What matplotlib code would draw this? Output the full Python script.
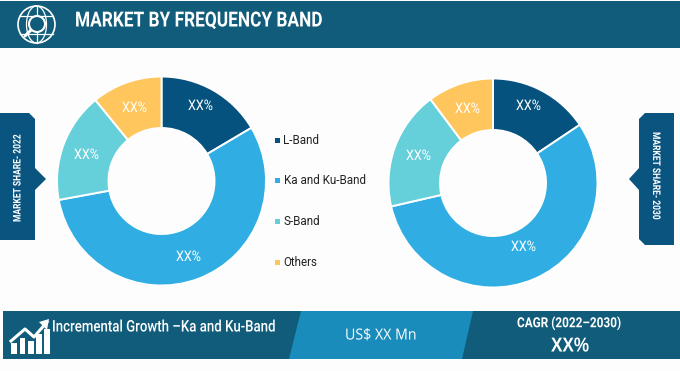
import matplotlib
matplotlib.use("Agg")
import matplotlib.pyplot as plt
from matplotlib.patches import Polygon, Circle, Rectangle, Ellipse
from matplotlib.patheffects import AbstractPathEffect
from matplotlib.transforms import Affine2D

W, H = 680, 371
categories = ["L-Band", "Ka and Ku-Band", "S-Band", "Others"]
share_2022 = [16.5, 55.6, 17.0, 10.9]
share_2030 = [15.6, 55.8, 18.4, 10.2]
colors = ["#06527f", "#30aee3", "#66d0da", "#fec65d"]
slice_labels = ["XX%", "XX%", "XX%", "XX%"]


class Squeeze(AbstractPathEffect):
    """Narrow the glyphs of a real text along its baseline, keeping its start fixed."""
    def __init__(self, sx):
        super().__init__()
        self.sx = sx

    def draw_path(self, renderer, gc, tpath, affine, rgbFace=None):
        renderer.draw_path(gc, tpath, Affine2D().scale(self.sx, 1) + affine, rgbFace)


fig = plt.figure(figsize=(W / 100, H / 100), dpi=100, facecolor="#fdfdfd")
ax = fig.add_axes([0, 0, 1, 1])
ax.set_xlim(0, W)
ax.set_ylim(0, H)
ax.axis("off")


def Y(y):
    return H - y


def label(x, y, s, size, sx=1.0, weight="normal", family="Roboto", color="white", rot=0):
    """x,y is the start of the string along its baseline direction, centred across it."""
    t = ax.text(x, Y(y), s, color=color, fontsize=size, fontweight=weight, family=family,
                rotation=rot, rotation_mode="anchor", ha="left", va="center")
    if sx != 1.0:
        t.set_path_effects([Squeeze(sx)])
    return t


DARK = "#115c7a"
NAVY = "#0a5480"
MID = "#1a8cbb"

# header
ax.add_patch(Rectangle((0, Y(48)), W, 47, fc=DARK, ec="none"))
label(75, 21, "MARKET BY FREQUENCY BAND", 15, sx=0.83, weight="bold", family="Roboto")
# globe icon
cx, cy, r = 36.5, 24.5, 18.5
ax.add_patch(Circle((cx, Y(cy)), r, fc="none", ec="white", lw=1.2))
ax.add_patch(Ellipse((cx, Y(cy)), 20, 2 * r, fc="none", ec="white", lw=0.9))
for dy in (-9, 9):
    hw = (r**2 - dy**2) ** 0.5
    ax.plot([cx - hw, cx + hw], [Y(cy + dy)] * 2, color="white", lw=0.9)
ax.plot([cx, cx], [Y(cy - r), Y(cy + r)], color="white", lw=0.9)
ax.add_patch(Circle((37, Y(24)), 8, fc=DARK, ec="white", lw=1.5, zorder=3))
ax.plot([31, 25], [Y(30), Y(36)], color="white", lw=2.2, zorder=3, solid_capstyle="round")


def donut(values, center, radius, hole, label_pos):
    ax.pie(values, colors=colors, startangle=90, counterclock=False,
           center=(center[0], Y(center[1])), radius=radius, frame=True,
           wedgeprops=dict(width=radius - hole, ec="white", lw=1.4))
    ax.set_xlim(0, W)
    ax.set_ylim(0, H)
    ax.set_aspect("auto")
    ax.axis("off")
    for (x, y), s in zip(label_pos, slice_labels):
        label(x - 13, y, s, 10.5, sx=0.86, family="Roboto")


donut(share_2022, (161.5, 181), 104.5, 53, [(201, 106), (189, 257), (87, 155), (135, 108)])
donut(share_2030, (493, 183), 104.5, 53, [(529, 106), (524, 247), (419, 156), (468, 109)])

# legend
for y, c, s in zip([140, 180, 221, 262], colors, categories):
    ax.add_patch(Rectangle((275, Y(y) - 2.5), 5, 5, fc=c, ec="none"))
    label(283.5, y + 0.5, s, 8.4, color="#222222")

# side tags
ax.add_patch(Polygon([(0, Y(113)), (29, Y(113)), (35, Y(119)), (35, Y(168)), (46, Y(179)),
                      (35, Y(190)), (35, Y(240)), (0, Y(240))], fc=NAVY, ec="none"))
label(17.5, 222, "MARKET SHARE- 2022", 7.6, sx=0.8, weight="bold", rot=90)
ax.add_patch(Polygon([(674, Y(113)), (645, Y(113)), (639, Y(119)), (639, Y(168)), (629, Y(179)),
                      (639, Y(190)), (639, Y(239)), (645, Y(245)), (674, Y(245))], fc=NAVY, ec="none"))
label(656, 132, "MARKET SHARE- 2030", 7.6, sx=0.8, weight="bold", rot=270)

# bottom band
top, bot = 311, 359
ax.add_patch(Rectangle((3, Y(bot)), 677, bot - top, fc=DARK, ec="none"))
ax.add_patch(Polygon([(301, Y(top)), (473, Y(top)), (462, Y(bot)), (289, Y(bot))], fc=MID, ec="none"))
label(52, 327, "Incremental Growth \u2013Ka and Ku-Band", 11.5, sx=0.83, weight="medium")
label(345, 336, "US$ XX Mn", 11, family="Open Sans", sx=0.93)
label(517, 323, "CAGR (2022\u20132030)", 10, sx=0.85, weight="bold")
label(551, 346, "XX%", 14.5, sx=0.85, weight="bold", family="Liberation Sans")

# growth icon
for x, t in zip([11, 19.5, 28, 36, 44], [343, 338, 341, 334, 329]):
    ax.add_patch(Rectangle((x, Y(354)), 5.5, 354 - t, fc="white", ec="none"))
ax.plot([11, 25, 34, 47], [Y(341), Y(329), Y(337), Y(322)], color="white", lw=2.2)
ax.add_patch(Polygon([(49, Y(319)), (39, Y(322)), (47, Y(330))], fc="white", ec="none"))

fig.savefig("out.png", dpi=100, facecolor=fig.get_facecolor())
